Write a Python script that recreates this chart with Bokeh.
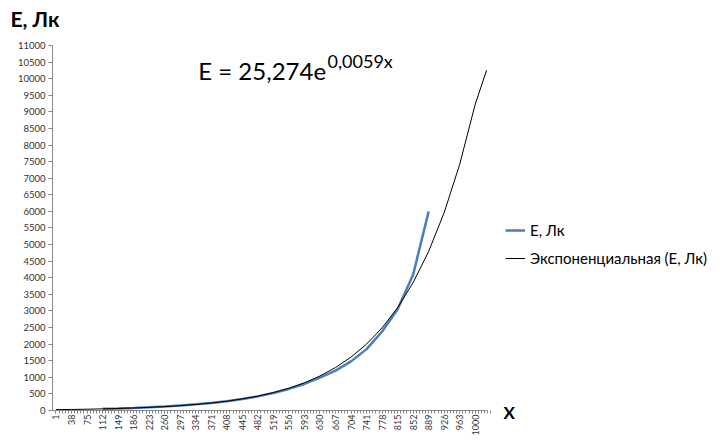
from bokeh.plotting import figure
from bokeh.models import FixedTicker, Label, Legend, LegendItem
from bokeh.embed import file_html
from bokeh.resources import INLINE
import math

# ---- data ----
tick_labels = [1, 38, 75, 112, 149, 186, 223, 260, 297, 334, 371, 408, 445, 482,
               519, 556, 593, 630, 667, 704, 741, 778, 815, 852, 889, 926, 963, 1000]

e_x = [112, 149, 186, 223, 260, 297, 334, 371, 408, 445, 482, 519, 556, 593,
       630, 667, 704, 741, 778, 815, 852, 889]
e_y = [50, 62, 78, 95, 118, 148, 185, 228, 282, 345, 425, 525, 650, 800,
       990, 1200, 1480, 1850, 2380, 3050, 4100, 6000]

trend_x = [1, 38, 75, 112, 149, 186, 223, 260, 297, 334, 371, 408, 445, 482,
           519, 556, 593, 630, 667, 704, 741, 778, 815, 852, 889, 926, 963, 1000, 1027]
trend_y = [25, 32, 39, 49, 61, 76, 94, 117, 146, 181, 226, 281, 349, 434,
           540, 672, 836, 1040, 1294, 1610, 2003, 2492, 3100, 3856, 4797, 5968, 7424, 9235, 10255]

y_ticks = list(range(0, 11001, 500))

font = "Lato"

p = figure(width=716, height=437, x_range=(-131.2, 1574.7), y_range=(-813.7, 12356),
           output_backend="svg", toolbar_location=None,
           min_border_left=0, min_border_right=0, min_border_top=0, min_border_bottom=0)
p.outline_line_color = None
p.grid.visible = False
p.background_fill_color = "white"

blue = p.line(e_x, e_y, line_color="#4A7EBB", line_width=2.5)
black = p.line(trend_x, trend_y, line_color="black", line_width=1)

# axes
ax = p.xaxis[0]
ax.fixed_location = 0
ax.bounds = (-7.3, 1029)
minor = [1 + i * 37 / 5 for i in range(0, 28 * 5 + 1)]
ax.ticker = FixedTicker(ticks=tick_labels, minor_ticks=minor)
ax.major_label_orientation = math.pi / 2
ax.major_label_text_font = font
ax.major_label_text_font_size = "9px"
ax.major_label_text_color = "#333333"
ax.major_label_standoff = 1
ax.axis_line_color = "#868686"
ax.major_tick_line_color = "#868686"
ax.minor_tick_line_color = "#868686"
ax.major_tick_in = 0
ax.major_tick_out = 3
ax.minor_tick_in = 0
ax.minor_tick_out = 3

ay = p.yaxis[0]
ay.fixed_location = -7.3
ay.bounds = (0, 11000)
ay.ticker = FixedTicker(ticks=y_ticks, minor_ticks=[])
ay.major_label_text_font = font
ay.major_label_text_font_size = "9.5px"
ay.major_label_text_color = "#333333"
ay.axis_line_color = "#868686"
ay.major_tick_line_color = "#868686"
ay.major_tick_in = 0
ay.major_tick_out = 4
ay.major_label_standoff = 3

# texts
p.add_layout(Label(x=-107.4, y=11814, text="E, Лк", text_font=font,
                   text_font_size="21px", text_font_style="bold",
                   text_baseline="middle", text_color="black"))
p.add_layout(Label(x=1067, y=-60, text="X", text_font=font,
                   text_font_size="17px", text_font_style="bold",
                   text_baseline="middle", text_color="black"))
p.add_layout(Label(x=340, y=10246, text="E = 25,274e", text_font=font,
                   text_font_size="24px", text_baseline="middle", text_color="black"))
p.add_layout(Label(x=648, y=10518, text="0,0059x", text_font=font,
                   text_font_size="18px", text_baseline="middle", text_color="black"))

legend = Legend(items=[LegendItem(label="E, Лк", renderers=[blue]),
                       LegendItem(label="Экспоненциальная (E, Лк)", renderers=[black])],
                location=(505, 170))
legend.label_text_font = font
legend.label_text_font_size = "15px"
legend.label_text_color = "black"
legend.glyph_width = 20
legend.glyph_height = 18
legend.label_height = 18
legend.spacing = 10
legend.label_standoff = 5
legend.padding = 0
legend.margin = 0
legend.border_line_alpha = 0
legend.background_fill_alpha = 0
p.add_layout(legend)

open("out.html", "w").write(file_html(p, INLINE))
